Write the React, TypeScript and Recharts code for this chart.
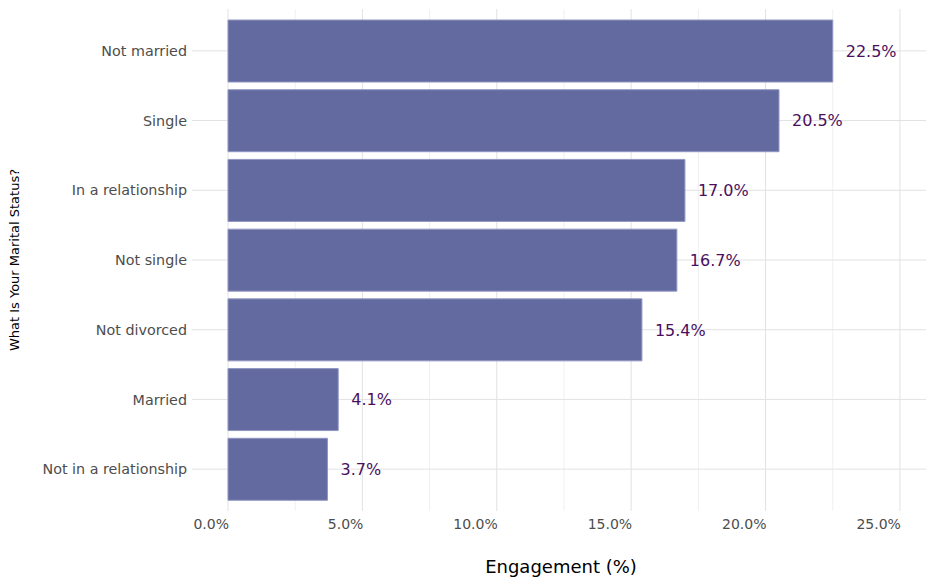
import React from "react";
import {
  BarChart,
  Bar,
  XAxis,
  YAxis,
  CartesianGrid,
  LabelList,
  Label,
} from "recharts";

const categories = [
  "Not married",
  "Single",
  "In a relationship",
  "Not single",
  "Not divorced",
  "Married",
  "Not in a relationship",
];
const engagement = [22.5, 20.5, 17.0, 16.7, 15.4, 4.1, 3.7];
const xTicks = [0, 5, 10, 15, 20, 25];
const minorTicks = [2.5, 7.5, 12.5, 17.5, 22.5];
const xDomain = [-1.34, 25.97];
const yPad = 7;

const data = categories.map((c, i) => ({ status: c, value: engagement[i] }));

const FONT = "DejaVu Sans, sans-serif";

function applyScale(s: any, v: any): number | null {
  if (!s) return null;
  if (typeof s === "function") {
    const r = s(v);
    if (typeof r === "number" && !isNaN(r)) return r;
  }
  if (typeof s.map === "function") {
    const r = s.map(v);
    if (typeof r === "number" && !isNaN(r)) return r;
  }
  return null;
}

function xCoord(args: any, t: number) {
  const v = applyScale(args?.xAxis?.scale, t);
  if (v !== null) return v;
  const o = args.offset;
  return o.left + ((t - xDomain[0]) / (xDomain[1] - xDomain[0])) * o.width;
}

function yCoords(args: any) {
  const s = args?.yAxis?.scale;
  const bw = s && typeof s.bandwidth === "function" ? s.bandwidth() : null;
  return categories.map((c, i) => {
    const v = applyScale(s, c);
    if (v !== null && bw !== null) return v + bw / 2;
    const o = args.offset;
    const band = (o.height - 2 * yPad) / categories.length;
    return o.top + yPad + (i + 0.5) * band;
  });
}

const XTick = (props: any) => {
  const { x, y, payload } = props;
  return (
    <text
      x={x + 1}
      y={y}
      dy="0.71em"
      textAnchor="end"
      fill="#4d4d4d"
      fontSize={14}
      fontFamily={FONT}
    >
      {Number(payload.value).toFixed(1) + "%"}
    </text>
  );
};

export default function App() {
  return (
    <div style={{ position: "absolute", left: 0, top: 0 }}>
      <BarChart
        width={936}
        height={586}
        data={data}
        layout="vertical"
        margin={{ top: 9, right: 10, bottom: 0, left: 0 }}
      >
        <CartesianGrid
          stroke="#f0f0f0"
          horizontal={false}
          verticalCoordinatesGenerator={(args: any) => minorTicks.map((t) => xCoord(args, t))}
        />
        <CartesianGrid
          stroke="#e2e2e2"
          verticalCoordinatesGenerator={(args: any) => xTicks.map((t) => xCoord(args, t))}
          horizontalCoordinatesGenerator={(args: any) => yCoords(args)}
        />
        <XAxis
          type="number"
          dataKey="value"
          domain={xDomain}
          allowDataOverflow
          ticks={xTicks}
          axisLine={false}
          tickLine={false}
          tickSize={0}
          tickMargin={8}
          height={75}
          tick={<XTick />}
        >
          <Label
            content={(props: any) => {
              const vb = props.viewBox || { x: 192, width: 734, y: 511 };
              return (
                <text
                  x={vb.x + vb.width / 2 + 2}
                  y={573}
                  textAnchor="middle"
                  fill="#000"
                  fontSize={18}
                  fontFamily={FONT}
                >
                  Engagement (%)
                </text>
              );
            }}
          />
        </XAxis>
        <YAxis
          type="category"
          dataKey="status"
          width={192}
          axisLine={false}
          tickLine={false}
          tickSize={0}
          tickMargin={5}
          padding={{ top: yPad, bottom: yPad }}
          tick={{ fill: "#4d4d4d", fontSize: 14.3, fontFamily: FONT }}
        >
          <Label
            content={(props: any) => {
              const vb = props.viewBox || { y: 9, height: 502 };
              const cy = vb.y + vb.height / 2;
              return (
                <text
                  x={19}
                  y={cy}
                  transform={`rotate(-90, 19, ${cy})`}
                  textAnchor="middle"
                  fill="#000"
                  fontSize={13}
                  fontFamily={FONT}
                >
                  What Is Your Marital Status?
                </text>
              );
            }}
          />
        </YAxis>
        <Bar
          dataKey="value"
          fill="#636a9f"
          stroke="#9197c2"
          strokeWidth={1}
          barSize={62}
          isAnimationActive={false}
        >
          <LabelList
            dataKey="value"
            position="right"
            offset={13}
            formatter={(v: any) => Number(v).toFixed(1) + "%"}
            fill="#4b0f5e"
            fontSize={16}
            fontFamily={FONT}
          />
        </Bar>
      </BarChart>
    </div>
  );
}
